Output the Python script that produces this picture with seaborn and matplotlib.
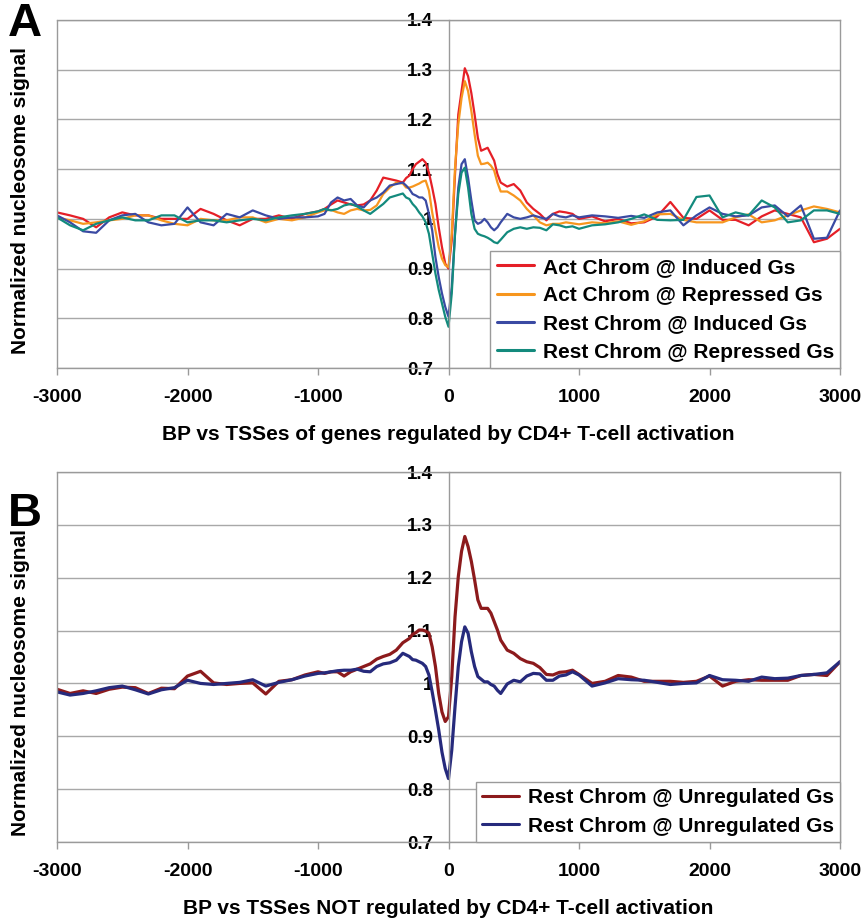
import matplotlib
matplotlib.use("Agg")
import matplotlib.pyplot as plt
import numpy as np
import pandas as pd
import seaborn as sns

# ---------------- data ----------------
bp_left = list(range(-3000, -1000, 100))          # 20
bp_mid1 = list(range(-1000, -340, 50))            # 14
bp_mid2 = list(range(-325, 401, 25))              # 30
bp_mid3 = list(range(450, 1001, 50))              # 12
bp_right = list(range(1100, 3001, 100))           # 20
bp = bp_left + bp_mid1 + bp_mid2 + bp_mid3 + bp_right

act_induced = [
    1.013, 1.007, 1.0, 0.983, 1.003, 1.013, 1.007, 1.007, 1.0, 1.0, 1.0, 1.02, 1.01, 0.997, 0.987, 1.0, 1.0, 1.007, 1.0, 1.01,
    1.015, 1.02, 1.029, 1.037, 1.033, 1.029, 1.027, 1.029, 1.037, 1.057, 1.083, 1.08, 1.077, 1.073,
    1.082, 1.087, 1.10, 1.11, 1.115, 1.12, 1.113, 1.093, 1.063, 1.03, 0.983, 0.943, 0.91, 0.90, 0.957, 1.09, 1.21, 1.257,
    1.303, 1.287, 1.253, 1.21, 1.163, 1.137, 1.14, 1.143, 1.13, 1.117, 1.09, 1.073,
    1.065, 1.07, 1.057, 1.033, 1.02, 1.01, 0.997, 1.01, 1.015, 1.013, 1.01, 1.0,
    1.005, 0.995, 1.0, 0.991, 0.993, 1.005, 1.034, 1.002, 1.0, 1.017, 0.998, 0.998, 0.987, 1.005, 1.017, 1.01, 1.003, 0.953, 0.96, 0.98,
]
act_repressed = [
    1.003, 0.997, 0.99, 0.993, 0.997, 1.0, 1.007, 1.007, 0.997, 0.99, 0.987, 1.0, 0.997, 0.997, 1.003, 1.003, 0.993, 1.0, 0.997, 1.003,
    1.013, 1.017, 1.018, 1.013, 1.01, 1.017, 1.02, 1.017, 1.018, 1.027, 1.05, 1.063, 1.073, 1.071,
    1.063, 1.063, 1.065, 1.068, 1.071, 1.075, 1.077, 1.057, 1.013, 0.977, 0.943, 0.92, 0.907, 0.903, 0.97, 1.103, 1.19, 1.243,
    1.277, 1.257, 1.217, 1.17, 1.127, 1.11, 1.111, 1.113, 1.107, 1.097, 1.073, 1.055,
    1.055, 1.047, 1.037, 1.02, 1.007, 0.993, 0.987, 0.99, 0.99, 0.993, 0.991, 0.989,
    0.993, 0.991, 0.995, 0.988, 0.995, 1.009, 1.01, 0.998, 0.993, 0.993, 0.993, 1.003, 1.009, 0.993, 0.997, 1.007, 1.017, 1.025, 1.02, 1.013,
]
rest_induced = [
    1.007, 0.993, 0.975, 0.972, 0.997, 1.007, 1.01, 0.993, 0.987, 0.99, 1.023, 0.993, 0.987, 1.01, 1.003, 1.017, 1.007, 1.0, 1.003, 1.003,
    1.005, 1.01, 1.033, 1.043, 1.037, 1.04, 1.027, 1.023, 1.037, 1.043, 1.053, 1.067, 1.07, 1.073,
    1.067, 1.06, 1.05, 1.047, 1.043, 1.043, 1.037, 1.01, 0.977, 0.923, 0.883, 0.85, 0.823, 0.803, 0.863, 0.97, 1.063, 1.11,
    1.12, 1.083, 1.037, 0.997, 0.99, 0.993, 1.0, 0.993, 0.983, 0.977, 0.983, 0.993,
    1.01, 1.003, 1.0, 1.003, 1.007, 1.003, 1.0, 1.01, 1.005, 1.003, 1.007, 1.003,
    1.007, 1.005, 1.002, 1.006, 1.002, 1.013, 1.017, 0.987, 1.007, 1.023, 1.01, 1.005, 1.007, 1.023, 1.027, 1.005, 1.027, 0.96, 0.962, 1.017,
]
rest_repressed = [
    1.003, 0.987, 0.977, 0.99, 0.997, 1.003, 0.997, 0.997, 1.007, 1.007, 0.993, 0.997, 0.997, 0.993, 0.997, 1.0, 0.997, 1.003, 1.007, 1.01,
    1.015, 1.02, 1.017, 1.02, 1.027, 1.03, 1.025, 1.017, 1.01, 1.02, 1.03, 1.043, 1.047, 1.051,
    1.043, 1.04, 1.03, 1.023, 1.013, 1.005, 0.993, 0.97, 0.93, 0.89, 0.857, 0.83, 0.803, 0.783, 0.85, 0.97, 1.05, 1.093,
    1.103, 1.063, 1.01, 0.98, 0.97, 0.967, 0.965, 0.962, 0.958, 0.953, 0.951, 0.958,
    0.973, 0.98, 0.983, 0.98, 0.983, 0.982, 0.977, 0.989, 0.987, 0.983, 0.985, 0.98,
    0.987, 0.989, 0.993, 1.0, 1.009, 0.998, 0.997, 0.998, 1.044, 1.047, 1.003, 1.013, 1.007, 1.037, 1.023, 0.993, 0.997, 1.017, 1.017, 1.01,
]
unreg_red = [
    0.989, 0.981, 0.986, 0.981, 0.989, 0.993, 0.992, 0.981, 0.991, 0.99, 1.014, 1.023, 1.001, 0.998, 1.0, 1.001, 0.98, 1.004, 1.007, 1.016,
    1.022, 1.019, 1.022, 1.022, 1.014, 1.022, 1.027, 1.032, 1.037, 1.046, 1.051, 1.055, 1.063, 1.077,
    1.081, 1.085, 1.093, 1.096, 1.101, 1.101, 1.099, 1.095, 1.069, 1.032, 0.981, 0.946, 0.928, 0.937, 1.013, 1.126, 1.202, 1.25,
    1.278, 1.259, 1.231, 1.196, 1.158, 1.142, 1.142, 1.142, 1.133, 1.117, 1.101, 1.082,
    1.063, 1.057, 1.047, 1.041, 1.038, 1.03, 1.017, 1.016, 1.021, 1.022, 1.025, 1.017,
    1.0, 1.004, 1.015, 1.012, 1.004, 1.004, 1.004, 1.002, 1.004, 1.014, 0.995, 1.004, 1.007, 1.006, 1.006, 1.006, 1.015, 1.017, 1.015, 1.041,
]
unreg_blue = [
    0.984, 0.978, 0.981, 0.986, 0.992, 0.995, 0.988, 0.98, 0.988, 0.992, 1.006, 1.0, 0.998, 1.0, 1.002, 1.007, 0.995, 1.002, 1.007, 1.014,
    1.019, 1.02, 1.022, 1.024, 1.025, 1.025, 1.027, 1.023, 1.022, 1.032, 1.037, 1.039, 1.044, 1.057,
    1.054, 1.051, 1.045, 1.044, 1.041, 1.038, 1.032, 1.016, 0.984, 0.949, 0.912, 0.87, 0.839, 0.82, 0.874, 0.956, 1.032, 1.079,
    1.107, 1.095, 1.06, 1.032, 1.013, 1.008, 1.003, 1.003, 0.998, 0.995, 0.987, 0.981,
    0.999, 1.006, 1.003, 1.014, 1.019, 1.018, 1.006, 1.006, 1.014, 1.016, 1.022, 1.016,
    0.995, 1.001, 1.009, 1.007, 1.006, 1.002, 0.998, 1.0, 1.001, 1.015, 1.007, 1.006, 1.004, 1.012, 1.009, 1.01, 1.015, 1.017, 1.02, 1.041,
]

labels_A = ["Act Chrom @ Induced Gs", "Act Chrom @ Repressed Gs",
            "Rest Chrom @ Induced Gs", "Rest Chrom @ Repressed Gs"]
labels_B = ["Rest Chrom @ Unregulated Gs", "Rest Chrom @ Unregulated Gs"]
colors_A = ["#e51f27", "#f7961e", "#3a4aa3", "#138a7d"]
colors_B = ["#8c1a1c", "#262a7c"]

xticks = [-3000, -2000, -1000, 0, 1000, 2000, 3000]
yticks = [0.7, 0.8, 0.9, 1.0, 1.1, 1.2, 1.3, 1.4]
ytick_labels = ["0.7", "0.8", "0.9", "1", "1.1", "1.2", "1.3", "1.4"]
xlabel_A = "BP vs TSSes of genes regulated by CD4+ T-cell activation"
xlabel_B = "BP vs TSSes NOT regulated by CD4+ T-cell activation"
ylabel = "Normalized nucleosome signal"

# ---------------- figure ----------------
sns.set_style("white")
plt.rcParams["font.family"] = ["Liberation Sans", "DejaVu Sans"]
plt.rcParams["font.weight"] = "bold"
for k in ["text.color", "axes.labelcolor", "xtick.labelcolor", "ytick.labelcolor"]:
    plt.rcParams[k] = "black"

W, H = 863, 919
fig = plt.figure(figsize=(W / 100, H / 100), dpi=100)
axA = fig.add_axes([57 / W, 1 - 368 / H, 783 / W, 348 / H])
axB = fig.add_axes([57 / W, 1 - 842 / H, 783 / W, 370 / H])

GRAY = "#9a9a9a"


def draw(ax, series, keys, colors, labels, lw, xlabel, ylab_y):
    df = pd.concat([pd.DataFrame({"bp": bp, "signal": s, "series": k})
                    for s, k in zip(series, keys)], ignore_index=True)
    sns.lineplot(data=df, x="bp", y="signal", hue="series", hue_order=keys,
                 palette=dict(zip(keys, colors)), estimator=None, lw=lw, ax=ax)
    for s in ax.spines.values():
        s.set_color(GRAY)
        s.set_linewidth(1.0)
        s.set_visible(True)
    ax.spines["left"].set_position(("data", 0))
    ax.set_xlim(-3000, 3000)
    ax.set_ylim(0.7, 1.4)
    ax.set_xticks(xticks)
    ax.set_xticklabels([str(t) for t in xticks])
    ax.set_yticks(yticks)
    ax.set_yticklabels(ytick_labels)
    ax.set_axisbelow(True)
    ax.grid(axis="y", color="#a8a8a8", lw=1.0)
    ax.grid(axis="x", visible=False)
    ax.axvline(-3000, color=GRAY, lw=1.0, clip_on=False, zorder=3)
    ax.tick_params(axis="y", left=False, length=0, pad=11, labelsize=13.5,
                   labelcolor="black")
    ax.tick_params(axis="x", bottom=True, length=5, width=1, color=GRAY,
                   direction="out", pad=10, labelsize=14, labelcolor="black")
    for t in ax.get_xticklabels() + ax.get_yticklabels():
        t.set_fontweight("bold")
    ax.set_xlabel(xlabel, fontsize=15, fontweight="bold", labelpad=14, color="black")
    ax.set_ylabel(ylabel, fontsize=15, fontweight="bold", color="black")
    ax.yaxis.set_label_coords(-0.035, ylab_y)
    handles, _ = ax.get_legend_handles_labels()
    leg = ax.legend(handles, labels, loc="lower right", bbox_to_anchor=(1.0, 0.0),
                    borderaxespad=0, fancybox=False, framealpha=1, edgecolor=GRAY,
                    prop={"size": 15, "weight": "bold"}, handlelength=1.8,
                    handletextpad=0.4, labelspacing=0.45, borderpad=0.3)
    leg.get_frame().set_linewidth(1.0)
    for t in leg.get_texts():
        t.set_color("black")
    for h in leg.get_lines():
        h.set_linewidth(2.2)


draw(axA, [act_induced, act_repressed, rest_induced, rest_repressed],
     ["a1", "a2", "a3", "a4"], colors_A, labels_A, 1.6, xlabel_A, 0.48)
draw(axB, [unreg_red, unreg_blue], ["b1", "b2"], colors_B, labels_B, 2.3, xlabel_B, 0.43)

fig.text(8 / W, 1 - 24 / H, "A", fontsize=34, fontweight="bold", va="center", ha="left")
fig.text(8 / W, 1 - 514 / H, "B", fontsize=34, fontweight="bold", va="center", ha="left")

fig.savefig("out.png", dpi=100)
